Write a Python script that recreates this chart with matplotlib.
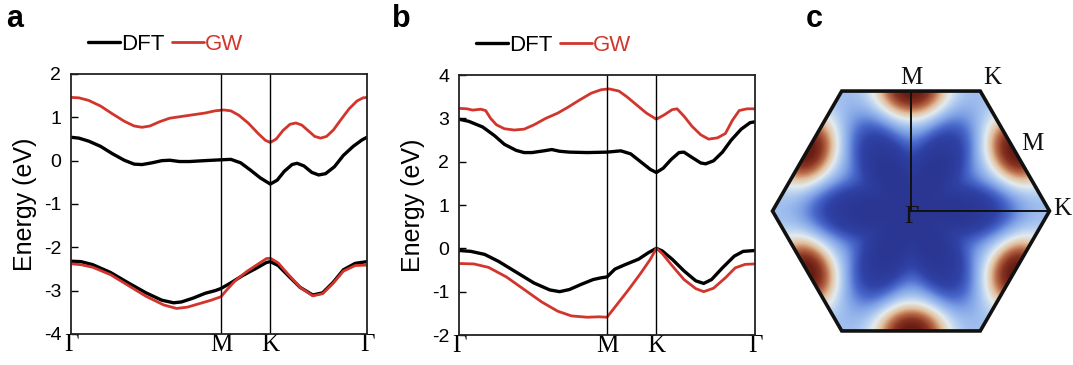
import matplotlib
matplotlib.use("Agg")
import matplotlib.pyplot as plt
import numpy as np
from matplotlib.colors import LinearSegmentedColormap
from matplotlib.patches import Polygon

plt.rcParams.update({
    "font.family": "Liberation Sans", "font.size": 12,
    "axes.unicode_minus": False,
})

RED = "#d2352b"
SERIF = "Liberation Serif"

# ── band data (k path: Γ=0 ... Γ=3) ───────────────────────────────────
# panel a
A_KPOINTS = [0.0, 1.52, 2.02, 3.0]
A_GW_C_K = [0, 0.08, 0.18, 0.30, 0.42, 0.54, 0.64, 0.72, 0.80, 0.90, 1.00, 1.12, 1.24, 1.36, 1.46, 1.55, 1.62, 1.70, 1.80,
            1.90, 1.97, 2.02, 2.08, 2.15, 2.22, 2.28, 2.34, 2.41, 2.47, 2.53, 2.59, 2.66, 2.74, 2.82, 2.90, 2.96, 3.0]
A_GW_C_E = [1.46, 1.45, 1.39, 1.26, 1.08, 0.91, 0.80, 0.77, 0.80, 0.90, 0.98, 1.02, 1.06, 1.10, 1.15, 1.17, 1.15, 1.05, 0.86,
            0.62, 0.47, 0.42, 0.50, 0.70, 0.84, 0.87, 0.82, 0.68, 0.56, 0.52, 0.56, 0.71, 0.96, 1.20, 1.38, 1.45, 1.46]
A_DFT_C_K = [0, 0.08, 0.18, 0.30, 0.42, 0.54, 0.64, 0.72, 0.82, 0.92, 1.00, 1.10, 1.20, 1.35, 1.52, 1.62, 1.72, 1.82, 1.92,
             2.02, 2.09, 2.16, 2.24, 2.29, 2.36, 2.44, 2.51, 2.58, 2.67, 2.76, 2.86, 2.95, 3.0]
A_DFT_C_E = [0.54, 0.52, 0.45, 0.33, 0.16, 0.01, -0.08, -0.09, -0.05, 0.00, 0.01, -0.02, -0.02, 0.00, 0.02, 0.03, -0.05,
             -0.22, -0.40, -0.54, -0.45, -0.25, -0.09, -0.06, -0.12, -0.27, -0.33, -0.30, -0.14, 0.12, 0.33, 0.48, 0.54]
A_DFT_V_K = [0, 0.10, 0.22, 0.40, 0.58, 0.76, 0.92, 1.04, 1.12, 1.24, 1.36, 1.46, 1.52, 1.62, 1.74, 1.88, 1.98, 2.02,
             2.10, 2.20, 2.32, 2.45, 2.55, 2.66, 2.76, 2.88, 3.0]
A_DFT_V_E = [-2.32, -2.33, -2.40, -2.58, -2.82, -3.05, -3.22, -3.28, -3.26, -3.17, -3.06, -3.00, -2.95, -2.82, -2.65,
             -2.48, -2.35, -2.33, -2.42, -2.65, -2.92, -3.10, -3.05, -2.80, -2.52, -2.37, -2.33]
A_GW_V_K = [0, 0.10, 0.22, 0.40, 0.58, 0.76, 0.94, 1.07, 1.18, 1.30, 1.42, 1.52, 1.58, 1.66, 1.78, 1.90, 1.98, 2.02,
            2.10, 2.20, 2.32, 2.45, 2.55, 2.66, 2.76, 2.88, 3.0]
A_GW_V_E = [-2.38, -2.40, -2.46, -2.63, -2.88, -3.13, -3.33, -3.41, -3.38, -3.30, -3.22, -3.14, -2.98, -2.78, -2.56,
            -2.38, -2.26, -2.25, -2.36, -2.62, -2.92, -3.12, -3.07, -2.82, -2.55, -2.42, -2.41]

# panel b
B_KPOINTS = [0.0, 1.50, 2.00, 3.0]
B_GW_C_K = [0, 0.08, 0.14, 0.22, 0.27, 0.32, 0.38, 0.46, 0.56, 0.66, 0.76, 0.88, 1.00, 1.10, 1.22, 1.34, 1.44, 1.52,
            1.62, 1.70, 1.80, 1.90, 2.00, 2.08, 2.16, 2.21, 2.28, 2.36, 2.45, 2.53, 2.62, 2.70, 2.77, 2.84, 2.92, 3.0]
B_GW_C_E = [3.23, 3.22, 3.19, 3.21, 3.18, 3.00, 2.85, 2.76, 2.73, 2.75, 2.85, 3.00, 3.12, 3.25, 3.42, 3.58, 3.66, 3.68,
            3.63, 3.50, 3.31, 3.12, 2.98, 3.08, 3.20, 3.22, 3.05, 2.82, 2.62, 2.52, 2.55, 2.65, 2.95, 3.18, 3.22, 3.22]
B_DFT_C_K = [0, 0.10, 0.24, 0.36, 0.46, 0.58, 0.66, 0.74, 0.86, 0.94, 1.02, 1.12, 1.30, 1.50, 1.64, 1.74, 1.84, 1.94,
             2.00, 2.07, 2.15, 2.23, 2.28, 2.36, 2.45, 2.50, 2.58, 2.67, 2.76, 2.86, 2.95, 3.0]
B_DFT_C_E = [2.98, 2.93, 2.80, 2.60, 2.40, 2.26, 2.21, 2.21, 2.25, 2.28, 2.24, 2.22, 2.21, 2.22, 2.25, 2.18, 2.00, 1.82,
             1.75, 1.85, 2.05, 2.21, 2.22, 2.10, 1.97, 1.95, 2.02, 2.22, 2.50, 2.75, 2.90, 2.92]
B_DFT_V_K = [0, 0.12, 0.26, 0.40, 0.58, 0.76, 0.92, 1.02, 1.12, 1.24, 1.36, 1.44, 1.50, 1.58, 1.68, 1.82, 1.92, 2.00,
             2.06, 2.16, 2.28, 2.40, 2.48, 2.56, 2.67, 2.79, 2.88, 3.0]
B_DFT_V_E = [-0.05, -0.07, -0.14, -0.30, -0.55, -0.80, -0.96, -1.00, -0.95, -0.83, -0.72, -0.68, -0.66, -0.48, -0.38,
             -0.25, -0.10, 0.00, -0.06, -0.25, -0.52, -0.75, -0.81, -0.72, -0.45, -0.18, -0.07, -0.05]
B_GW_V_K = [0, 0.15, 0.30, 0.48, 0.66, 0.84, 1.00, 1.14, 1.30, 1.42, 1.50, 1.60, 1.72, 1.84, 1.94, 2.00, 2.06, 2.16,
            2.28, 2.40, 2.48, 2.58, 2.70, 2.80, 2.90, 3.0]
B_GW_V_E = [-0.35, -0.36, -0.44, -0.66, -0.95, -1.24, -1.45, -1.56, -1.59, -1.58, -1.59, -1.30, -0.95, -0.58, -0.25,
            0.00, -0.12, -0.40, -0.72, -0.93, -1.00, -0.92, -0.68, -0.45, -0.37, -0.36]

KLABELS = ["Γ", "M", "K", "Γ"]

# ── panel c: intensity model in the hexagonal BZ ───────────────────────
BLOB_ANGLES = [30, 90, 150, 210, 270, 330]   # M points (deg)
BLOB_R = 0.88
BLOB_SIG_T, BLOB_SIG_N = 0.17, 0.14           # along edge / towards Γ
STAR_R0, STAR_AMP, STAR_W = 0.60, 0.11, 0.085
CMAP_COLORS = ["#2a3692", "#3043a8", "#4a69cc", "#7d9fe4", "#a9c6f0", "#e3ebef",
               "#e2c09e", "#b86a48", "#8a3422", "#681e14"]


def band_panel(ax, kpts, ylim, curves):
    lines = []
    for k, e, col, lw in curves:
        lines += ax.plot(k, e, color=col, lw=lw, solid_joinstyle="round", solid_capstyle="round")
    for kp in kpts[1:-1]:
        ax.axvline(kp, color="black", lw=1.0)
    ax.set_xlim(kpts[0], kpts[-1])
    ax.set_ylim(*ylim)
    ax.set_xticks(kpts)
    ax.set_xticklabels(KLABELS, fontfamily=SERIF, fontsize=18)
    ax.tick_params(axis="x", length=0, pad=0)
    ax.tick_params(axis="y", direction="in", length=5, width=1.0, labelsize=14, pad=7)
    ax.set_yticks(np.arange(ylim[0], ylim[1] + 1, 1))
    ax.set_ylabel("Energy (eV)", fontsize=18, labelpad=5)
    for s in ax.spines.values():
        s.set_linewidth(1.3)
        s.set_color("#222222")
    ax.legend(handles=[lines[1], lines[0]], labels=["DFT", "GW"],
              loc="center left", bbox_to_anchor=(0.058, 1.115), ncol=2,
              frameon=False, fontsize=16, handlelength=1.45,
              handletextpad=0.05, columnspacing=0.3, borderpad=0, borderaxespad=0,
              labelcolor=["black", RED])


def main():
    fig = plt.figure(figsize=(10.73, 3.65), dpi=100)
    W, H = 1073, 365

    ax_a = fig.add_axes([71 / W, 1 - 334 / H, 296 / W, 260 / H])
    band_panel(ax_a, A_KPOINTS, (-4, 2), [
        (A_GW_C_K, A_GW_C_E, RED, 2.0),
        (A_DFT_C_K, A_DFT_C_E, "black", 2.4),
        (A_DFT_V_K, A_DFT_V_E, "black", 2.4),
        (A_GW_V_K, A_GW_V_E, RED, 2.0),
    ])

    ax_b = fig.add_axes([459 / W, 1 - 335 / H, 296 / W, 260 / H])
    band_panel(ax_b, B_KPOINTS, (-2, 4), [
        (B_GW_C_K, B_GW_C_E, RED, 2.0),
        (B_DFT_C_K, B_DFT_C_E, "black", 2.4),
        (B_DFT_V_K, B_DFT_V_E, "black", 2.4),
        (B_GW_V_K, B_GW_V_E, RED, 2.0),
    ])

    # panel c
    R_PX = 138.5
    cx, cy = 911, 211
    ax_c = fig.add_axes([760 / W, 1 - 350 / H, 313 / W, 290 / H])
    ax_c.set_xlim((760 - cx) / R_PX, (1073 - cx) / R_PX)
    ax_c.set_ylim(-(350 - cy) / R_PX, (cy - 60) / R_PX)
    ax_c.axis("off")

    n = 400
    xs = np.linspace(-1.0, 1.0, n)
    ys = np.linspace(-0.9, 0.9, n)
    X, Y = np.meshgrid(xs, ys)
    r = np.hypot(X, Y)
    th = np.arctan2(Y, X)
    rc = STAR_R0 + STAR_AMP * np.cos(6 * th)
    core = 1 / (1 + np.exp(-(rc - r) / STAR_W))
    blob = np.zeros_like(X)
    for a in np.radians(BLOB_ANGLES):
        ux, uy = np.cos(a), np.sin(a)
        dn = X * ux + Y * uy - BLOB_R
        dt = -X * uy + Y * ux
        blob += np.exp(-dn ** 2 / (2 * BLOB_SIG_N ** 2) - dt ** 2 / (2 * BLOB_SIG_T ** 2))
    val = np.clip(0.42 - 0.42 * core + 0.62 * blob, 0, 1)

    cmap = LinearSegmentedColormap.from_list("bz", CMAP_COLORS)
    im = ax_c.imshow(val, extent=(xs[0], xs[-1], ys[0], ys[-1]), origin="lower",
                     cmap=cmap, vmin=0, vmax=1, interpolation="bilinear")
    ang = np.radians(np.arange(0, 360, 60))
    hexv = np.column_stack([np.cos(ang), np.sin(ang)])
    clip = Polygon(hexv, closed=True, transform=ax_c.transData, facecolor="none")
    im.set_clip_path(clip)
    ax_c.add_patch(Polygon(hexv, closed=True, fill=False, edgecolor="#111111",
                           lw=2.6, joinstyle="miter"))
    s3 = np.sqrt(3) / 2
    ax_c.plot([0, 0], [0, s3], color="#111111", lw=1.4)
    ax_c.plot([0, 1], [0, 0], color="#111111", lw=1.4)

    lab = dict(fontfamily=SERIF, fontsize=18, ha="center", va="center", color="#111111")
    ax_c.text(0.005, 0.96, "M", **lab)
    ax_c.text(0.585, 0.96, "K", **lab)
    ax_c.text(0.874, 0.484, "M", **lab)
    ax_c.text(1.09, 0.014, "K", **lab)
    ax_c.text(0.0, -0.045, "Γ", **lab)

    # panel letters
    for x, t in [(6, "a"), (392, "b"), (806, "c")]:
        fig.text(x / W, 1 - 19 / H, t, fontsize=22, fontweight="bold", va="center", ha="left")

    fig.savefig("out.png", dpi=100)
    plt.close()


if __name__ == "__main__":
    main()
